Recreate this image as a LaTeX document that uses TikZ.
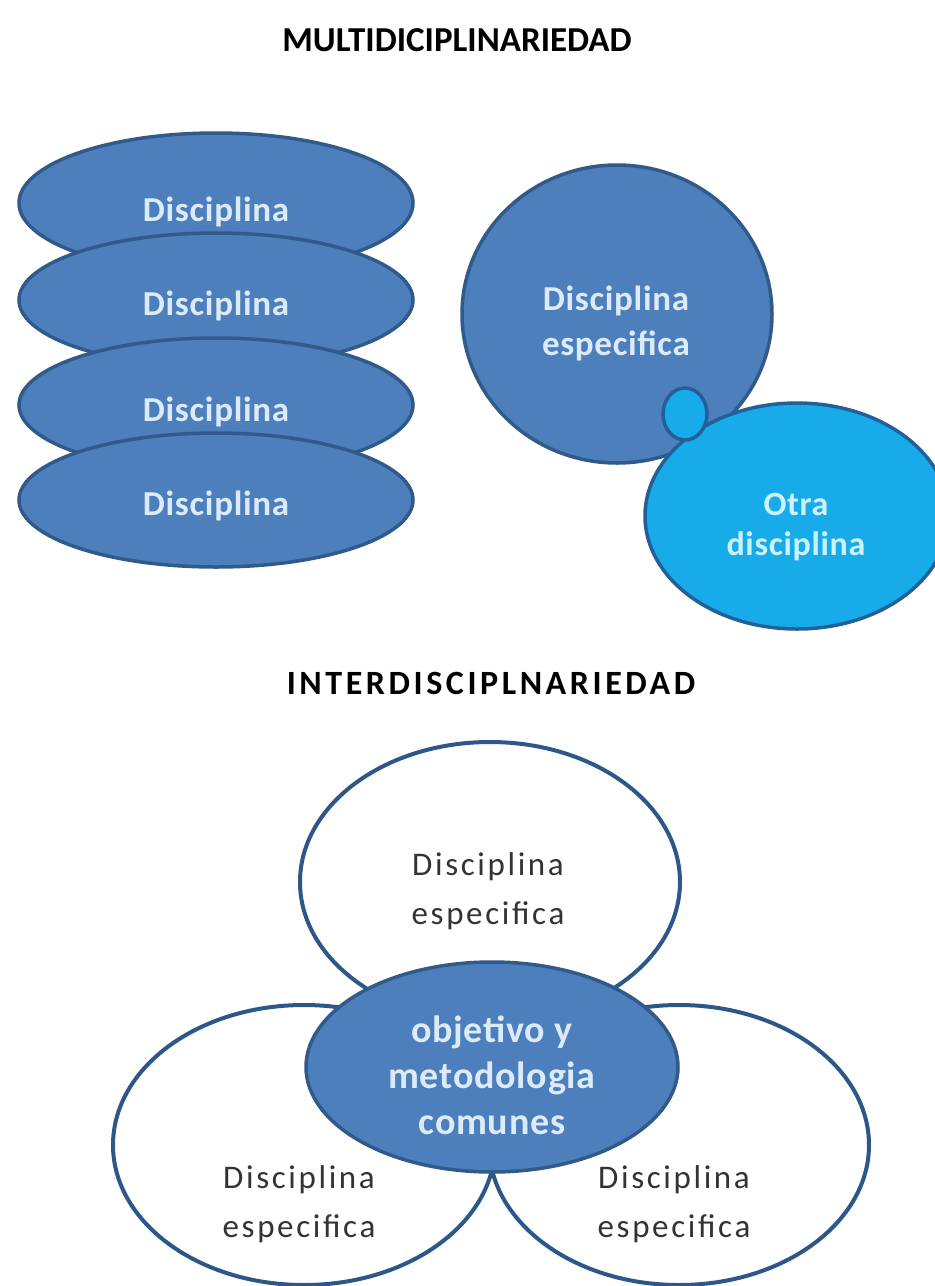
\documentclass[tikz,border=0pt]{standalone}
\usepackage{fontspec}
\setmainfont{Carlito}
\newfontfamily\trackA[LetterSpace=2]{Carlito}
\newfontfamily\trackB[LetterSpace=8]{Carlito}
\newfontfamily\trackC[LetterSpace=10.5]{Carlito}
\usetikzlibrary{shapes.geometric}
\definecolor{office}{HTML}{4D7FBC}
\definecolor{officeline}{HTML}{305A8A}
\definecolor{skyfill}{HTML}{17ABEA}
\definecolor{skyline}{HTML}{23609A}
\definecolor{paletext}{HTML}{DCEBFA}
\definecolor{skytext}{HTML}{CDF1FF}
\definecolor{greytext}{HTML}{333333}
\definecolor{ringline}{HTML}{2C5788}
\begin{document}
\begin{tikzpicture}[x=1pt,y=-1pt,
  blob/.style={ellipse, draw=officeline, fill=office, line width=3.5pt, inner sep=0pt},
  skyblob/.style={ellipse, draw=skyline, fill=skyfill, line width=3.5pt, inner sep=0pt},
  ring/.style={ellipse, draw=ringline, line width=4pt, inner sep=0pt},
  bluetxt/.style={text=paletext, align=center, inner sep=0pt,
    font=\trackA\bfseries\fontsize{35}{45}\selectfont},
  skytxt/.style={text=skytext, align=center, inner sep=0pt,
    font=\trackA\bfseries\fontsize{34}{40}\selectfont},
  centretxt/.style={text=paletext, align=center, inner sep=0pt,
    font=\trackA\bfseries\fontsize{38}{46}\selectfont},
  greytxt/.style={text=greytext, align=center, inner sep=0pt,
    font=\trackB\fontsize{33}{49}\selectfont},
  heading/.style={text=black, inner sep=0pt}
]
\fill[white] (0,0) rectangle (935,1286);
\useasboundingbox (0,0) rectangle (935,1286);

% titles
\node[heading, font=\bfseries\fontsize{35}{40}\selectfont] (multi) at (457,40) {MULTIDICIPLINARIEDAD};
\node[heading, font=\trackC\bfseries\fontsize{34}{40}\selectfont] (inter) at (491,683) {INTERDISCIPLNARIEDAD};

% stacked disciplines
\node[blob, minimum width=394pt, minimum height=140pt] (d1) at (216,203) {};
\node[blob, minimum width=394pt, minimum height=134pt] (d2) at (216,300) {};
\node[blob, minimum width=394pt, minimum height=134pt] (d3) at (216,405) {};
\node[blob, minimum width=394pt, minimum height=134pt] (d4) at (216,500) {};
\node[bluetxt] (t1) at (216,212) {Disciplina};
\node[bluetxt] (t2) at (216,306) {Disciplina};
\node[bluetxt] (t3) at (216,412) {Disciplina};
\node[bluetxt] (t4) at (216,506) {Disciplina};

% specific discipline touching another one
\node[blob, minimum width=310pt, minimum height=298pt] (spec) at (617,314) {};
\node[skyblob, minimum width=304pt, minimum height=226pt] (otra) at (797,516) {};
\node[skyblob, minimum width=44pt, minimum height=52pt] (link) at (685,414) {};
\node[bluetxt] (spect) at (616,323) {Disciplina\\especifica};
\node[skytxt] (otrat) at (796,527) {Otra\\disciplina};

% three disciplines around a shared core
\node[ring, minimum width=380pt, minimum height=280pt] (top) at (490,882) {};
\node[ring, minimum width=382pt, minimum height=280pt] (left) at (304,1145) {};
\node[ring, minimum width=380pt, minimum height=280pt] (right) at (679,1145) {};
\node[blob, minimum width=372pt, minimum height=210pt] (core) at (492,1067) {};
\node[greytxt] (topt) at (488,891) {Disciplina\\especifica};
\node[greytxt] (leftt) at (299,1204) {Disciplina\\especifica};
\node[greytxt] (rightt) at (674,1204) {Disciplina\\especifica};
\node[centretxt] (coret) at (492,1075) {objetivo y\\metodologia\\comunes};
\end{tikzpicture}
\end{document}
